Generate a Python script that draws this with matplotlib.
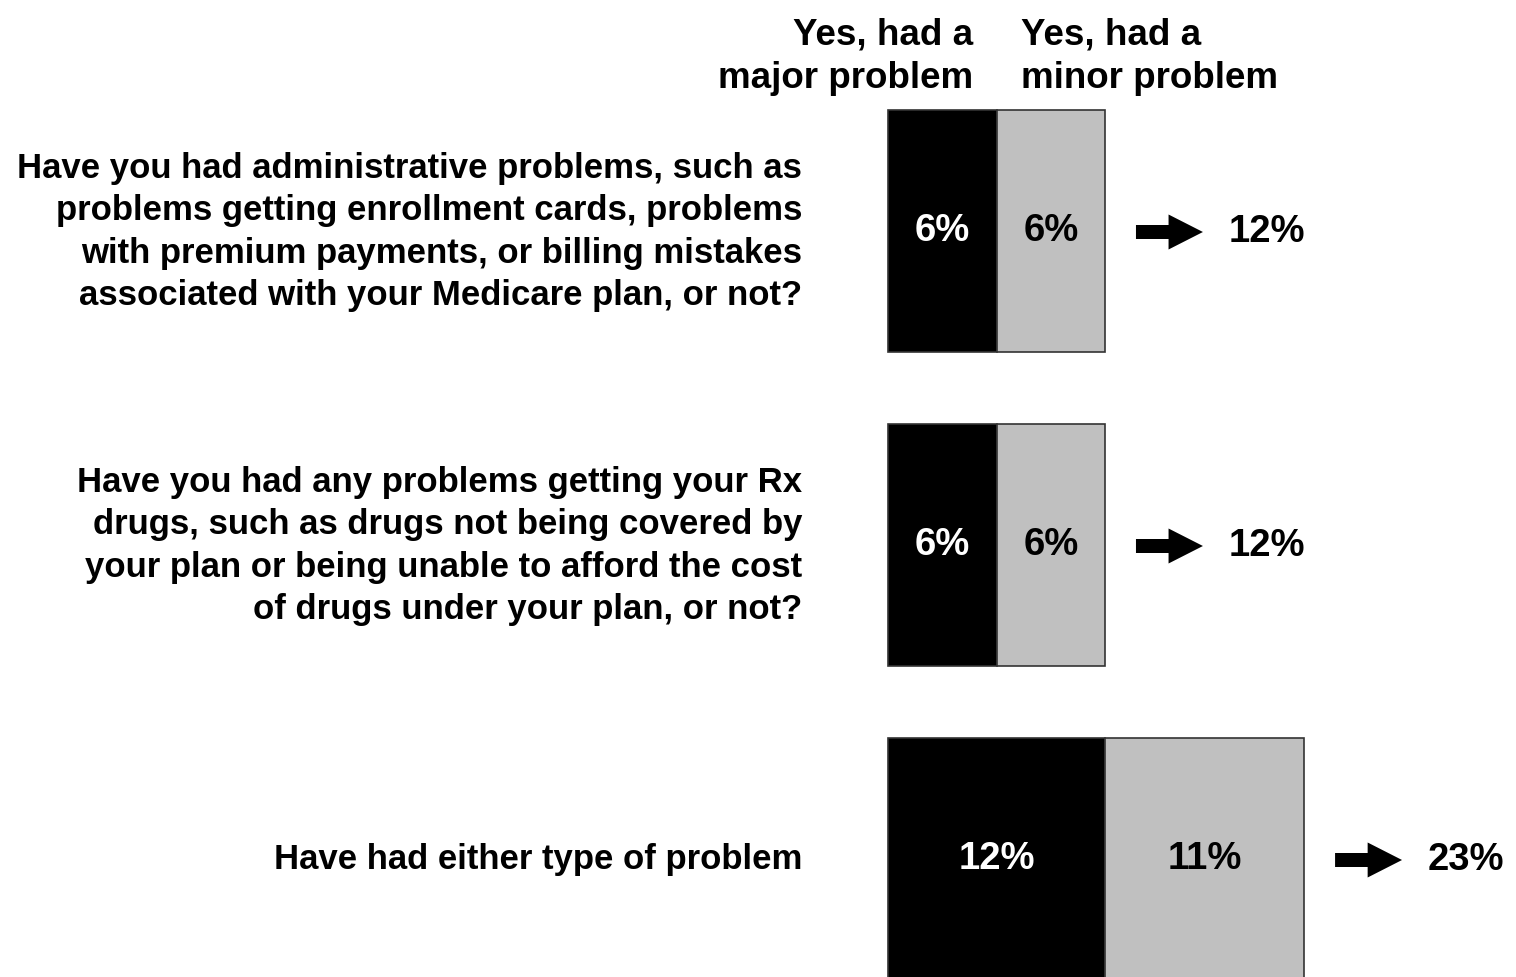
import matplotlib.pyplot as plt
from matplotlib.patches import FancyArrow

plt.rcParams['font.family'] = ['Liberation Sans', 'DejaVu Sans']
plt.rcParams['font.weight'] = 'bold'

questions = [
    "Have you had administrative problems, such as\n"
    "problems getting enrollment cards, problems\n"
    "with premium payments, or billing mistakes\n"
    "associated with your Medicare plan, or not?",
    "Have you had any problems getting your Rx\n"
    "drugs, such as drugs not being covered by\n"
    "your plan or being unable to afford the cost\n"
    "of drugs under your plan, or not?",
    "Have had either type of problem",
]
major = [6, 6, 12]
minor = [6, 6, 11]
totals = [12, 12, 23]
headers = ["Yes, had a\nmajor problem", "Yes, had a\nminor problem"]

# layout: x in percent units (1% ~ 18.1 px), y in pixels from top
px_per_pct = 18.1
x0 = 888
y_centers = [231, 545, 859]
bar_h = 242

fig = plt.figure(figsize=(15.16, 9.77), dpi=100)
ax = fig.add_axes([0, 0, 1, 1])
ax.set_xlim(-x0 / px_per_pct, (1516 - x0) / px_per_pct)
ax.set_ylim(977, 0)
ax.axis('off')

ax.barh(y_centers, major, height=bar_h, color='black', edgecolor='#333333', linewidth=1.2)
ax.barh(y_centers, minor, left=major, height=bar_h, color='#c0c0c0', edgecolor='#333333', linewidth=1.2)

q_fs = 25
pct_fs = 27.5
for yc, q, a, b, t in zip(y_centers, questions, major, minor, totals):
    ax.text(-4.75, yc + 1, q, ha='right', va='center', fontsize=q_fs, linespacing=1.35,
            multialignment='right')
    ax.text(a / 2, yc, f"{a}%", ha='center', va='center', fontsize=pct_fs, color='white')
    ax.text(a + b / 2, yc, f"{b}%", ha='center', va='center', fontsize=pct_fs, color='black')
    start = a + b + 1.7
    ax.add_patch(FancyArrow(start, yc + 1, 3.7, 0, width=14, head_width=35, head_length=1.9,
                            length_includes_head=True, color='black', linewidth=0))
    ax.text(start + 3.7 + 1.4, yc + 1, f"{t}%", ha='left', va='center', fontsize=pct_fs)

ax.text(4.7, 57, headers[0], ha='right', va='center', fontsize=26.5, linespacing=1.32,
        multialignment='right')
ax.text(7.35, 57, headers[1], ha='left', va='center', fontsize=26.5, linespacing=1.32,
        multialignment='left')

fig.savefig('out.png', dpi=100)
